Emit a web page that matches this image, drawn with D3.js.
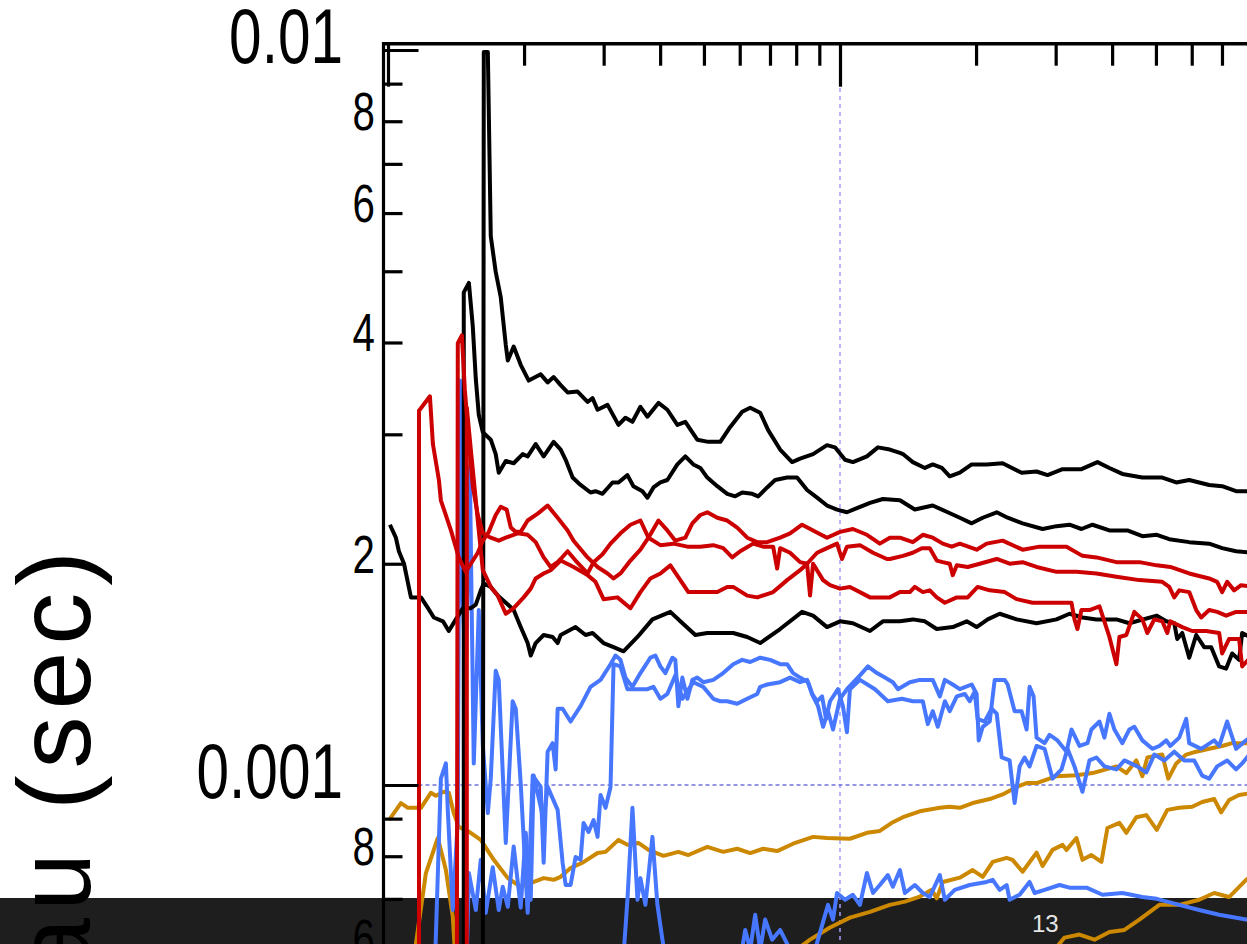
<!DOCTYPE html>
<html><head><meta charset="utf-8">
<script src="https://cdn.jsdelivr.net/npm/d3@7"></script>
<style>html,body{margin:0;padding:0;background:#fff;}svg{display:block;}</style>
</head><body>
<svg id="c" width="1247" height="944"></svg>
<script>
// ---- data (x: arbitrary log units, y: tau in milliseconds) ----
const xMajorTicks = [1, 10, 100];
const xMinorTicks = [2,3,4,5,6,7,8,9,20,30,40,50,60,70,80,90];
const yMajorTicks = [0.01, 0.001];
const yMinorTicks = [0.009,0.008,0.007,0.006,0.005,0.004,0.003,0.002,0.0009,0.0008,0.0007,0.0006];
const yLabelValues = [0.01, 0.008, 0.006, 0.004, 0.002, 0.001, 0.0008, 0.0006];
const yLabelTexts  = ["0.01","8","6","4","2","0.001","8","6"];
const yTitle = "tau (sec)";
const pageNumber = "13";

const blackTop = [[1.621,0.51],[1.629,9.94],[1.663,9.94],[1.688,5.58],[1.731,4.99],[1.776,4.61],[1.822,3.97],[1.841,3.78],[1.897,3.95],[1.966,3.73],[2.048,3.55],[2.177,3.62],[2.255,3.53],[2.325,3.59],[2.410,3.50],[2.497,3.42],[2.627,3.43],[2.764,3.32],[2.835,3.36],[2.908,3.24],[3.060,3.29],[3.235,3.09],[3.352,3.16],[3.474,3.12],[3.618,3.27],[3.750,3.17],[3.966,3.31],[4.150,3.24],[4.367,3.09],[4.548,3.12],[4.833,2.95],[5.112,2.93],[5.434,2.93],[5.717,3.07],[6.076,3.22],[6.329,3.26],[6.659,3.21],[6.935,3.04],[7.371,2.86],[7.834,2.75],[8.160,2.78],[8.718,2.82],[9.360,2.90],[9.748,2.88],[10.26,2.77],[10.68,2.75],[11.47,2.80],[12.13,2.88],[12.89,2.86],[13.57,2.83],[13.78,2.82],[14.49,2.75],[15.41,2.70],[16.04,2.73],[16.80,2.70],[17.49,2.63],[18.41,2.66],[19.56,2.73],[21.11,2.73],[22.90,2.74],[25.22,2.66],[27.22,2.67],[28.79,2.64],[31.08,2.69],[34.21,2.69],[37.12,2.75],[39.45,2.70],[42.14,2.65],[46.66,2.62],[51.64,2.62],[55.46,2.58],[59.24,2.60],[65.58,2.56],[70.06,2.55],[75.22,2.51],[82.4,2.51]];

const blackMid = [[1.471,0.51],[1.471,4.68],[1.510,4.82],[1.540,4.21],[1.564,3.57],[1.588,3.19],[1.621,3.02],[1.688,2.95],[1.731,2.82],[1.758,2.66],[1.822,2.76],[1.897,2.74],[1.986,2.82],[2.037,2.80],[2.122,2.91],[2.210,2.80],[2.325,2.93],[2.410,2.86],[2.472,2.77],[2.561,2.62],[2.667,2.56],[2.806,2.50],[2.878,2.51],[2.983,2.49],[3.139,2.58],[3.235,2.58],[3.386,2.64],[3.491,2.55],[3.655,2.51],[3.750,2.46],[3.866,2.54],[4.005,2.58],[4.150,2.60],[4.367,2.73],[4.548,2.80],[4.737,2.73],[4.909,2.70],[5.086,2.62],[5.352,2.55],[5.630,2.49],[5.864,2.47],[6.076,2.50],[6.393,2.49],[6.592,2.47],[6.900,2.54],[7.186,2.60],[7.638,2.62],[8.036,2.62],[8.456,2.52],[8.898,2.46],[9.360,2.40],[9.849,2.37],[10.36,2.35],[10.90,2.38],[11.65,2.42],[12.44,2.45],[13.57,2.44],[14.64,2.37],[16.04,2.40],[17.31,2.35],[18.41,2.31],[19.56,2.27],[20.69,2.31],[22.22,2.35],[23.49,2.31],[25.35,2.27],[28.07,2.23],[30.14,2.25],[32.19,2.26],[34.21,2.23],[36.19,2.26],[39.45,2.22],[43.23,2.22],[46.66,2.18],[50.23,2.19],[53.51,2.16],[59.24,2.14],[65.58,2.13],[70.06,2.10],[75.22,2.08],[82.4,2.07]];

const blackLow = [[1.010,2.26],[1.041,2.17],[1.057,2.08],[1.085,2.00],[1.124,1.80],[1.183,1.80],[1.226,1.74],[1.263,1.69],[1.323,1.67],[1.363,1.62],[1.413,1.68],[1.464,1.74],[1.525,1.74],[1.564,1.76],[1.604,1.84],[1.629,1.88],[1.688,1.86],[1.749,1.81],[1.841,1.76],[1.897,1.73],[1.966,1.64],[2.037,1.56],[2.069,1.50],[2.122,1.56],[2.210,1.60],[2.313,1.59],[2.373,1.56],[2.410,1.60],[2.600,1.64],[2.736,1.60],[2.835,1.61],[2.998,1.56],[3.155,1.54],[3.319,1.52],[3.564,1.59],[3.846,1.68],[4.214,1.72],[4.434,1.67],[4.786,1.60],[5.086,1.61],[5.804,1.61],[6.233,1.59],[6.659,1.56],[7.371,1.63],[8.244,1.72],[8.718,1.70],[9.360,1.64],[10.0,1.67],[10.68,1.66],[11.65,1.62],[12.44,1.67],[13.57,1.67],[14.49,1.68],[15.41,1.67],[16.37,1.63],[17.76,1.64],[19.07,1.67],[20.06,1.64],[21.22,1.68],[22.56,1.71],[24.59,1.68],[27.22,1.66],[30.14,1.68],[32.19,1.71],[34.39,1.69],[36.93,1.68],[40.88,1.68],[43.67,1.66],[50.23,1.70],[52.71,1.67],[54.89,1.66],[55.73,1.58],[57.18,1.61],[59.24,1.49],[61.39,1.60],[63.93,1.54],[66.27,1.54],[69.0,1.45],[71.50,1.44],[73.72,1.51],[76.38,1.48],[77.57,1.61],[82.4,1.58]];

const redA = [[1.171,0.51],[1.171,3.23],[1.238,3.38],[1.257,2.91],[1.296,2.60],[1.309,2.44],[1.378,2.22],[1.434,2.04],[1.486,1.95],[1.525,2.00],[1.580,2.07],[1.621,2.15],[1.671,2.21],[1.731,2.33],[1.776,2.39],[1.830,2.37],[1.869,2.24],[1.917,2.21],[1.966,2.21],[2.037,2.29],[2.144,2.34],[2.255,2.40],[2.373,2.31],[2.497,2.22],[2.574,2.15],[2.764,2.04],[2.908,1.98],[3.060,1.94],[3.155,1.91],[3.268,1.94],[3.439,2.02],[3.618,2.09],[3.769,2.17],[3.966,2.29],[4.150,2.22],[4.322,2.15],[4.548,2.17],[4.713,2.27],[4.909,2.33],[5.086,2.35],[5.352,2.31],[5.630,2.29],[5.924,2.24],[6.233,2.17],[6.558,2.14],[6.900,2.14],[7.371,2.17],[7.755,2.20],[8.244,2.26],[8.718,2.22],[9.360,2.17],[10.0,2.21],[10.68,2.23],[11.47,2.19],[12.25,2.13],[12.89,2.17],[13.57,2.17],[14.49,2.14],[15.25,2.19],[16.04,2.17],[16.88,2.13],[17.67,2.11],[18.41,2.13],[20.06,2.09],[21.11,2.13],[22.90,2.15],[25.35,2.09],[27.64,2.11],[31.71,2.11],[34.39,2.05],[36.93,2.04],[40.88,2.01],[45.95,2.01],[50.23,1.99],[53.79,1.98],[59.24,1.94],[65.58,1.91],[68.30,1.89],[70.06,1.83],[71.86,1.89],[74.47,1.84],[77.16,1.87],[82.4,1.86]];

const redB = [[1.420,0.51],[1.427,3.99],[1.457,4.09],[1.479,3.45],[1.510,2.95],[1.540,2.55],[1.580,2.33],[1.621,2.20],[1.688,2.17],[1.758,2.15],[1.822,2.17],[1.936,2.20],[2.037,2.19],[2.122,2.14],[2.210,2.04],[2.290,1.98],[2.373,2.01],[2.410,2.03],[2.497,2.08],[2.600,2.02],[2.764,1.94],[2.850,2.01],[2.983,2.06],[3.107,2.13],[3.268,2.20],[3.439,2.26],[3.618,2.29],[3.769,2.17],[4.005,2.12],[4.279,2.13],[4.596,2.11],[4.909,2.11],[5.244,2.12],[5.516,2.10],[5.775,2.04],[6.015,2.08],[6.426,2.13],[6.761,2.11],[7.114,2.11],[7.260,1.97],[7.371,2.10],[7.755,2.07],[8.160,2.01],[8.456,2.00],[8.898,2.07],[9.360,2.10],[9.849,2.13],[10.10,2.03],[10.36,2.11],[11.07,2.12],[11.83,2.07],[12.70,2.03],[12.89,2.03],[13.78,2.05],[14.49,2.07],[15.17,2.10],[15.80,2.10],[16.37,2.02],[16.88,2.01],[17.49,2.00],[17.76,1.93],[18.13,1.99],[19.17,1.98],[20.38,2.00],[22.22,2.03],[23.73,2.00],[25.35,2.01],[27.22,1.98],[30.14,1.95],[33.36,1.95],[36.93,1.94],[40.88,1.92],[45.95,1.90],[51.64,1.89],[53.51,1.86],[54.89,1.80],[56.30,1.84],[59.24,1.83],[61.39,1.73],[62.96,1.69],[65.58,1.73],[68.30,1.72],[71.50,1.70],[75.22,1.72],[82.4,1.72]];

const redC = [[1.494,0.51],[1.494,3.26],[1.525,2.86],[1.564,2.44],[1.588,2.22],[1.604,2.09],[1.621,1.96],[1.688,1.86],[1.749,1.81],[1.822,1.71],[1.897,1.74],[1.996,1.80],[2.069,1.85],[2.122,1.91],[2.210,1.94],[2.290,1.96],[2.410,2.02],[2.574,1.98],[2.764,1.93],[2.878,1.89],[2.998,1.79],[3.219,1.80],[3.439,1.74],[3.618,1.83],[3.807,1.91],[4.005,1.94],[4.214,1.99],[4.434,1.90],[4.619,1.83],[4.984,1.83],[5.352,1.83],[5.630,1.86],[5.804,1.86],[6.233,1.81],[6.558,1.80],[7.114,1.83],[7.638,1.90],[8.160,1.96],[8.456,2.00],[8.585,1.81],[8.718,2.00],[9.174,1.90],[9.504,1.87],[10.0,1.85],[10.52,1.86],[11.65,1.80],[12.70,1.80],[12.89,1.80],[13.57,1.83],[14.27,1.83],[14.64,1.86],[15.25,1.83],[15.80,1.84],[16.37,1.80],[17.06,1.77],[18.13,1.80],[19.17,1.80],[20.16,1.86],[21.44,1.84],[23.14,1.83],[24.59,1.79],[26.67,1.77],[29.08,1.77],[32.52,1.77],[33.02,1.68],[33.52,1.63],[34.21,1.73],[35.64,1.73],[37.50,1.75],[39.45,1.59],[40.88,1.46],[41.51,1.59],[43.01,1.60],[44.79,1.72],[46.66,1.68],[47.86,1.61],[49.58,1.68],[51.64,1.67],[52.98,1.61],[53.79,1.67],[57.18,1.64],[60.14,1.62],[64.59,1.62],[69.0,1.61],[70.06,1.51],[72.59,1.58],[76.38,1.58],[77.57,1.45],[82.4,1.51]];

const blueA = [[1.263,0.51],[1.309,1.02],[1.343,1.07],[1.357,0.916],[1.391,0.676],[1.427,0.896],[1.442,3.55],[1.464,1.79],[1.486,1.39],[1.517,2.71],[1.548,1.07],[1.588,1.73],[1.621,1.13],[1.663,0.916],[1.688,1.02],[1.731,1.43],[1.758,1.39],[1.822,0.834],[1.887,1.30],[1.917,1.27],[1.966,1.006],[2.037,0.670],[2.090,1.03],[2.177,0.994],[2.210,0.784],[2.255,1.11],[2.313,1.14],[2.349,1.05],[2.373,1.27],[2.434,1.27],[2.535,1.22],[2.667,1.28],[2.806,1.36],[2.953,1.39],[3.107,1.46],[3.187,1.50],[3.268,1.48],[3.352,1.40],[3.474,1.36],[3.618,1.42],[3.807,1.49],[3.905,1.50],[4.005,1.45],[4.108,1.42],[4.257,1.49],[4.322,1.48],[4.389,1.28],[4.480,1.40],[4.596,1.31],[4.713,1.39],[4.833,1.40],[4.984,1.38],[5.244,1.39],[5.516,1.42],[5.804,1.46],[6.076,1.48],[6.329,1.47],[6.659,1.49],[7.006,1.48],[7.371,1.46],[7.638,1.46],[7.875,1.42],[8.160,1.40],[8.499,1.38],[8.718,1.32],[8.942,1.28],[9.174,1.20],[9.408,1.26],[9.650,1.19],[10.0,1.31],[10.36,1.35],[11.07,1.41],[11.53,1.45],[12.07,1.42],[12.57,1.40],[13.09,1.38],[13.43,1.35],[14.27,1.38],[15.02,1.39],[16.04,1.39],[16.63,1.32],[17.06,1.39],[17.76,1.37],[18.41,1.35],[19.56,1.37],[20.06,1.33],[20.27,1.15],[20.69,1.20],[21.44,1.22],[21.99,1.39],[23.14,1.39],[23.49,1.37],[24.34,1.26],[25.22,1.26],[25.87,1.19],[26.27,1.36],[26.81,1.32],[27.22,1.16],[28.35,1.14],[29.08,1.17],[30.28,1.15],[31.71,1.11],[32.52,1.19],[33.87,1.13],[35.28,1.14],[35.99,1.19],[37.50,1.22],[38.46,1.16],[39.45,1.25],[40.46,1.19],[42.14,1.14],[43.67,1.19],[44.79,1.20],[46.66,1.15],[49.09,1.12],[50.86,1.13],[52.71,1.15],[53.79,1.13],[56.30,1.16],[58.34,1.23],[59.24,1.14],[62.96,1.12],[67.27,1.15],[69.00,1.13],[71.86,1.22],[75.22,1.12],[79.16,1.15],[82.4,1.17]];

const blueB = [[1.486,0.51],[1.510,0.759],[1.564,0.676],[1.604,0.791],[1.645,0.670],[1.705,0.773],[1.758,0.676],[1.794,0.727],[1.841,0.683],[1.897,0.825],[1.966,0.681],[2.017,0.861],[2.069,0.698],[2.101,1.03],[2.210,0.896],[2.255,0.994],[2.373,0.925],[2.434,0.784],[2.472,0.731],[2.535,0.731],[2.600,0.798],[2.667,0.791],[2.708,0.888],[2.778,0.863],[2.850,0.896],[2.908,0.850],[2.953,0.969],[3.029,0.931],[3.107,0.994],[3.155,1.46],[3.268,1.45],[3.386,1.35],[3.564,1.35],[3.750,1.35],[3.866,1.36],[4.005,1.31],[4.150,1.33],[4.322,1.41],[4.480,1.31],[4.737,1.38],[4.984,1.36],[5.244,1.31],[5.434,1.30],[5.630,1.30],[5.924,1.29],[6.233,1.31],[6.558,1.33],[6.659,1.36],[6.900,1.37],[7.371,1.38],[7.755,1.40],[8.160,1.38],[8.456,1.39],[8.674,1.33],[8.898,1.30],[9.127,1.32],[9.314,1.23],[9.504,1.30],[9.899,1.35],[10.15,1.28],[10.36,1.18],[10.52,1.35],[11.07,1.39],[11.95,1.35],[12.76,1.30],[13.71,1.31],[14.49,1.30],[15.25,1.30],[15.64,1.21],[16.04,1.26],[16.46,1.20],[17.06,1.30],[17.49,1.26],[18.13,1.32],[18.88,1.33],[19.36,1.30],[19.86,1.34],[20.16,1.23],[20.90,1.22],[21.65,1.27],[22.22,1.25],[22.79,1.09],[23.73,1.08],[24.34,0.945],[24.97,1.06],[25.61,1.09],[26.27,1.06],[27.22,1.13],[28.35,1.12],[29.53,1.02],[30.91,1.05],[31.87,1.12],[33.02,1.06],[34.39,0.979],[35.64,1.08],[36.93,1.09],[38.46,1.06],[40.88,1.05],[42.58,1.08],[45.48,1.06],[47.62,1.04],[49.58,1.10],[52.17,1.08],[54.89,1.11],[57.75,1.08],[60.76,1.08],[63.28,1.03],[65.58,1.02],[68.30,1.06],[71.86,1.08],[75.22,1.05],[77.57,1.07],[82.4,1.12]];

const blueC = [[3.268,0.51],[3.386,0.698],[3.474,0.931],[3.564,0.698],[3.618,0.747],[3.711,0.687],[3.846,0.850],[3.945,0.687],[4.108,0.578],[4.909,0.54],[6.015,0.578],[6.170,0.635],[6.329,0.597],[6.492,0.666],[6.659,0.597],[6.830,0.656],[7.077,0.616],[7.371,0.635],[7.755,0.597],[8.160,0.578],[8.806,0.597],[9.408,0.687],[9.650,0.656],[9.849,0.713],[10.26,0.698],[10.68,0.709],[11.07,0.687],[11.47,0.759],[11.83,0.713],[12.25,0.731],[12.76,0.754],[13.09,0.727],[13.57,0.766],[13.92,0.713],[14.64,0.731],[15.25,0.713],[15.80,0.704],[16.63,0.754],[17.06,0.698],[17.94,0.720],[19.36,0.731],[21.11,0.738],[21.77,0.743],[22.56,0.720],[23.37,0.731],[23.73,0.698],[24.97,0.709],[26.27,0.738],[26.95,0.713],[28.35,0.720],[30.60,0.731],[32.19,0.725],[35.11,0.725],[38.07,0.709],[42.14,0.713],[46.66,0.704],[50.23,0.700],[56.30,0.687],[62.33,0.676],[69.00,0.666],[79.16,0.656],[82.4,0.652]];

const orangeA = [[1.005,0.896],[1.068,0.945],[1.107,0.931],[1.183,0.931],[1.244,0.976],[1.276,0.967],[1.329,0.979],[1.363,0.976],[1.398,0.916],[1.434,0.877],[1.510,0.864],[1.604,0.842],[1.714,0.791],[1.841,0.747],[1.966,0.727],[2.101,0.738],[2.210,0.747],[2.325,0.743],[2.410,0.750],[2.535,0.771],[2.695,0.784],[2.908,0.808],[3.029,0.811],[3.235,0.842],[3.386,0.829],[3.581,0.834],[3.769,0.816],[4.067,0.801],[4.389,0.811],[4.619,0.803],[5.086,0.824],[5.516,0.811],[5.924,0.819],[6.329,0.808],[6.761,0.819],[7.260,0.813],[7.875,0.832],[8.718,0.850],[9.360,0.847],[10.52,0.845],[11.47,0.861],[12.25,0.866],[13.09,0.890],[13.78,0.904],[15.02,0.921],[16.63,0.931],[17.49,0.934],[18.41,0.931],[19.66,0.945],[21.44,0.957],[22.90,0.971],[24.59,0.994],[25.87,1.006],[27.22,1.006],[30.14,1.028],[33.36,1.031],[36.19,1.038],[38.07,1.047],[40.88,1.06],[43.01,1.038],[45.24,1.08],[46.66,1.028],[47.86,1.09],[51.64,1.10],[53.25,1.02],[55.46,1.07],[58.34,1.10],[61.39,1.11],[65.58,1.12],[70.06,1.13],[73.72,1.14],[82.4,1.14]];

const orangeB = [[1.141,0.51],[1.153,0.608],[1.213,0.759],[1.289,0.847],[1.343,0.766],[1.391,0.662],[1.427,0.51],[7.006,0.53],[7.755,0.588],[8.585,0.616],[9.504,0.64],[10.52,0.66],[11.65,0.672],[12.89,0.687],[13.92,0.694],[15.02,0.705],[15.96,0.720],[16.37,0.701],[16.88,0.738],[18.41,0.748],[19.66,0.766],[20.69,0.750],[21.77,0.786],[23.37,0.796],[24.09,0.791],[25.35,0.762],[27.22,0.809],[28.07,0.776],[29.53,0.816],[31.08,0.829],[31.71,0.816],[33.36,0.847],[34.39,0.791],[35.99,0.803],[37.88,0.786],[39.05,0.874],[41.51,0.888],[43.01,0.861],[45.24,0.904],[47.62,0.910],[50.23,0.869],[52.98,0.925],[56.30,0.931],[60.14,0.934],[63.28,0.948],[67.27,0.957],[69.70,0.918],[72.59,0.954],[76.38,0.969],[82.4,0.976]];

const orangeC = [[27.64,0.51],[29.83,0.597],[31.39,0.620],[33.87,0.626],[36.56,0.616],[39.45,0.631],[42.58,0.635],[45.95,0.656],[50.86,0.687],[56.30,0.687],[62.33,0.698],[67.27,0.713],[72.59,0.704],[79.16,0.743],[82.4,0.755]];

const seriesList = [
  {data: orangeA, color: "#cc8800"}, {data: orangeB, color: "#cc8800"}, {data: orangeC, color: "#cc8800"},
  {data: blueC, color: "#4777ff"}, {data: blueB, color: "#4777ff"}, {data: blueA, color: "#4777ff"},
  {data: blackLow, color: "#000000"}, {data: blackMid, color: "#000000"}, {data: blackTop, color: "#000000"},
  {data: redC, color: "#cc0000"}, {data: redB, color: "#cc0000"}, {data: redA, color: "#cc0000"}
];

// ---- drawing ----
const W = 1247, H = 944;
const svg = d3.select("#c");
const x = d3.scaleLog().domain([1, 100]).range([388, 1292]);
const y = d3.scaleLog().domain([0.001, 0.01]).range([785, 50]);
const axisTop = 43.7, axisLeft = 383.5;

// slide footer bar (behind the chart)
svg.append("rect").attr("x", 0).attr("y", 898).attr("width", W).attr("height", H - 898).attr("fill", "#1e1e1e");
svg.append("text").attr("x", 1032).attr("y", 932).attr("fill", "#e6e6e6")
  .attr("font-family", "'Liberation Sans', Arial, sans-serif").attr("font-size", 24).text(pageNumber);

// reference dashed lines
svg.append("line").attr("x1", x(10)).attr("x2", x(10)).attr("y1", 88).attr("y2", H)
  .attr("stroke", "#a3a3ff").attr("stroke-width", 1.5).attr("stroke-dasharray", "4,4");
svg.append("line").attr("x1", axisLeft + 35).attr("x2", W).attr("y1", y(0.001)).attr("y2", y(0.001))
  .attr("stroke", "#7272dd").attr("stroke-width", 1.3).attr("stroke-dasharray", "4,3");

// data lines
const line = d3.line().x(d => x(d[0])).y(d => y(d[1] / 1000));
svg.append("g").selectAll("path").data(seriesList).join("path")
  .attr("d", s => line(s.data)).attr("fill", "none").attr("stroke", s => s.color)
  .style("stroke-width", "4px").attr("stroke-linejoin", "round").attr("stroke-linecap", "butt");

// x axis (top, ticks pointing down)
function styleAxis(g) {
  g.select(".domain").remove();
  g.selectAll(".tick line").attr("stroke", "#000").style("stroke-width", "3.2px");
  g.selectAll(".tick text").remove();
}
svg.append("g").attr("transform", `translate(0,${axisTop})`)
  .call(d3.axisBottom(x).tickValues(xMinorTicks).tickSize(22).tickFormat("")).call(styleAxis);
svg.append("g").attr("transform", `translate(0,${axisTop})`)
  .call(d3.axisBottom(x).tickValues(xMajorTicks).tickSize(43).tickFormat("")).call(styleAxis);

// y axis (left, ticks pointing right)
svg.append("g").attr("transform", `translate(${axisLeft},0)`)
  .call(d3.axisRight(y).tickValues(yMinorTicks).tickSize(19).tickFormat("")).call(styleAxis);
svg.append("g").attr("transform", `translate(${axisLeft},0)`)
  .call(d3.axisRight(y).tickValues(yMajorTicks).tickSize(35).tickFormat("")).call(styleAxis);

// frame lines
svg.append("line").attr("x1", axisLeft).attr("x2", W).attr("y1", axisTop).attr("y2", axisTop)
  .attr("stroke", "#000").style("stroke-width", "3.5px");
svg.append("line").attr("x1", axisLeft).attr("x2", axisLeft).attr("y1", axisTop - 1.75).attr("y2", H)
  .attr("stroke", "#000").style("stroke-width", "3.2px");

// y tick labels (condensed look)
const lab = svg.append("g").attr("font-family", "'Liberation Sans', Arial, sans-serif").attr("fill", "#000");
yLabelValues.forEach((v, i) => {
  const big = yLabelTexts[i].length > 1;
  const xr = big ? 343 : 375;
  const yb = y(v) + (big ? 13 : 9);
  lab.append("text").attr("text-anchor", "end").attr("font-size", big ? 77 : 53)
    .attr("transform", `translate(${xr},${yb}) scale(0.76,1)`).text(yLabelTexts[i]);
});

// y title
svg.append("text").attr("transform", "translate(90,544) rotate(-90)").attr("text-anchor", "end")
  .attr("font-family", "'Liberation Sans', Arial, sans-serif").attr("font-size", 104)
  .attr("letter-spacing", 7).attr("fill", "#000").text(yTitle);
</script>
</body></html>
